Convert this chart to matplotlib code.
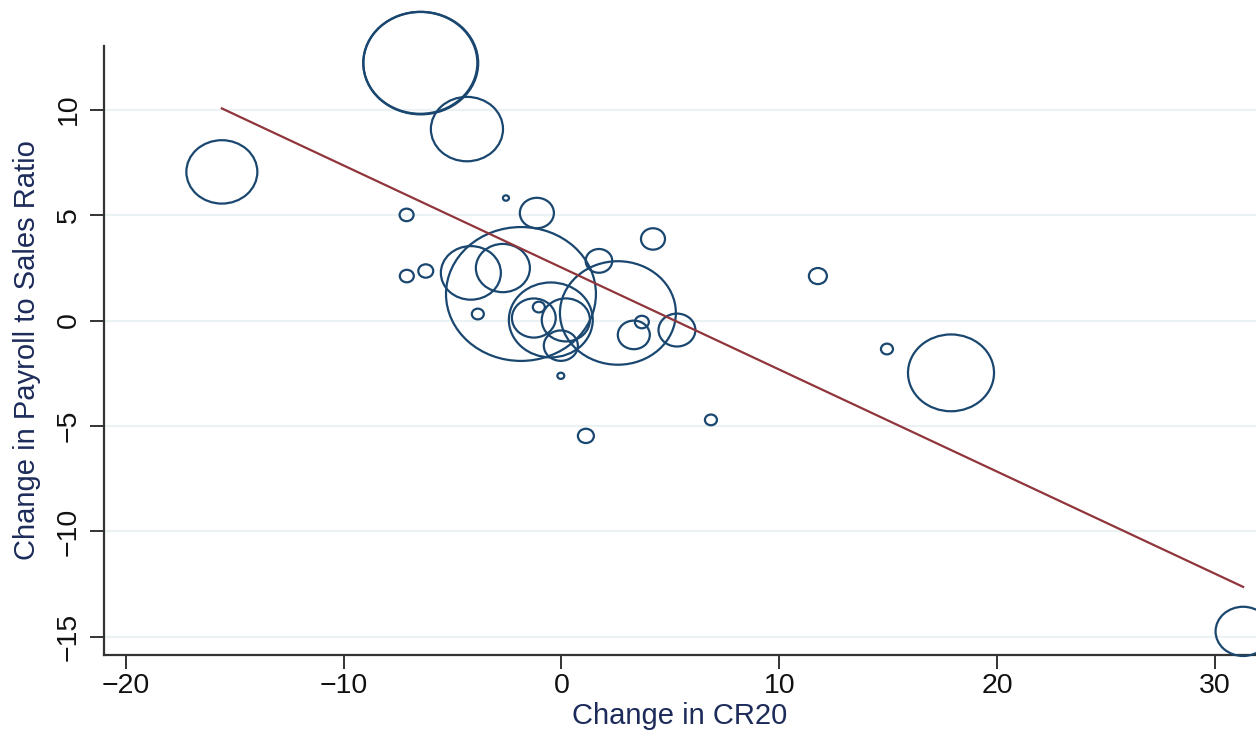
import numpy as np
import matplotlib
matplotlib.use("Agg")
import matplotlib.pyplot as plt
from matplotlib.path import Path
from matplotlib.transforms import Affine2D

# ---- data ----
cr20_change = [-6.46, -6.48, -4.34, -15.59, -7.11, -2.55, -1.13, 4.20, 1.72, 11.77,
               -7.10, -6.23, -4.16, -2.69, -1.86, 2.59, -3.84, -1.27, -1.04, -0.49,
               0.20, -0.03, -0.03, 3.32, 3.69, 5.30, 14.94, 17.88, 1.12, 6.86, 31.29]
payroll_change = [12.21, 12.22, 9.08, 7.05, 5.01, 5.81, 5.10, 3.87, 2.83, 2.11,
                  2.11, 2.35, 2.26, 2.49, 1.26, 0.36, 0.31, 0.12, 0.64, 0.03,
                  0.03, -1.19, -2.62, -0.68, -0.07, -0.45, -1.35, -2.48, -5.47, -4.71, -14.74]
weights = [330, 325, 130, 126, 4.9, 0.9, 29, 14.4, 17.7, 8.1,
           4.9, 5.6, 90, 73, 562, 336, 3.6, 48, 3.6, 176,
           58, 29, 1.2, 25.6, 4.9, 34, 3.6, 185, 6.4, 3.6, 76]
fit_slope = -0.484
fit_intercept = 2.514

x_ticks = [-20, -10, 0, 10, 20, 30]
y_ticks = [-15, -10, -5, 0, 5, 10]
x_label = "Change in CR20"
y_label = "Change in Payroll to Sales Ratio"

# ---- styling ----
plt.rcParams['font.family'] = ['Liberation Sans', 'DejaVu Sans']
navy = "#1a476f"
maroon = "#90353b"
grid_c = "#eaf2f3"

fig = plt.figure(figsize=(12.56, 7.35), dpi=100)
ax = fig.add_axes([104/1256, 80/735, 1 - 104/1256, 609/735])

# elliptical marker (reference is stretched horizontally)
circ = Path.unit_circle()
ell = Affine2D().scale(1.12, 1.0).transform_path(circ)

sizes = np.array(weights) * 20.736
ax.scatter(cr20_change, payroll_change, s=sizes, marker=ell,
           facecolors='none', edgecolors=navy, linewidths=1.6, zorder=3,
           clip_on=False)

xs = np.array([min(cr20_change), max(cr20_change)])
ax.plot(xs, fit_intercept + fit_slope * xs, color=maroon, lw=1.6, zorder=4)

ax.set_xlim(-21.0, 31.88)
ax.set_ylim(-15.86, 13.02)
ax.set_xticks(x_ticks)
ax.set_yticks(y_ticks)
ax.set_xticklabels([str(t).replace('-', '\u2212') for t in x_ticks])
ax.set_yticklabels([str(t).replace('-', '\u2212') for t in y_ticks],
                   rotation=90, va='center')

for y in y_ticks:
    ax.axhline(y, color=grid_c, lw=1.5, zorder=0)

for s in ['top', 'right']:
    ax.spines[s].set_visible(False)
for s in ['left', 'bottom']:
    ax.spines[s].set_color('#333333')
    ax.spines[s].set_linewidth(1.6)

ax.tick_params(axis='both', direction='out', length=10, width=1.4,
               color='#333333', labelsize=20.5, labelcolor='#111111')
ax.tick_params(axis='y', pad=6)
ax.tick_params(axis='x', pad=3)

ax.set_xlabel(x_label, fontsize=21, color='#1c2b5a')
ax.xaxis.set_label_coords(0.5, (655 - 716) / 609)
ax.xaxis.label.set_va('center')
ax.set_ylabel(y_label, fontsize=21, color='#1c2b5a')
ax.yaxis.set_label_coords((27 - 104) / 1152, 0.5)
ax.yaxis.label.set_va('center')

fig.savefig("out.png", dpi=100)
